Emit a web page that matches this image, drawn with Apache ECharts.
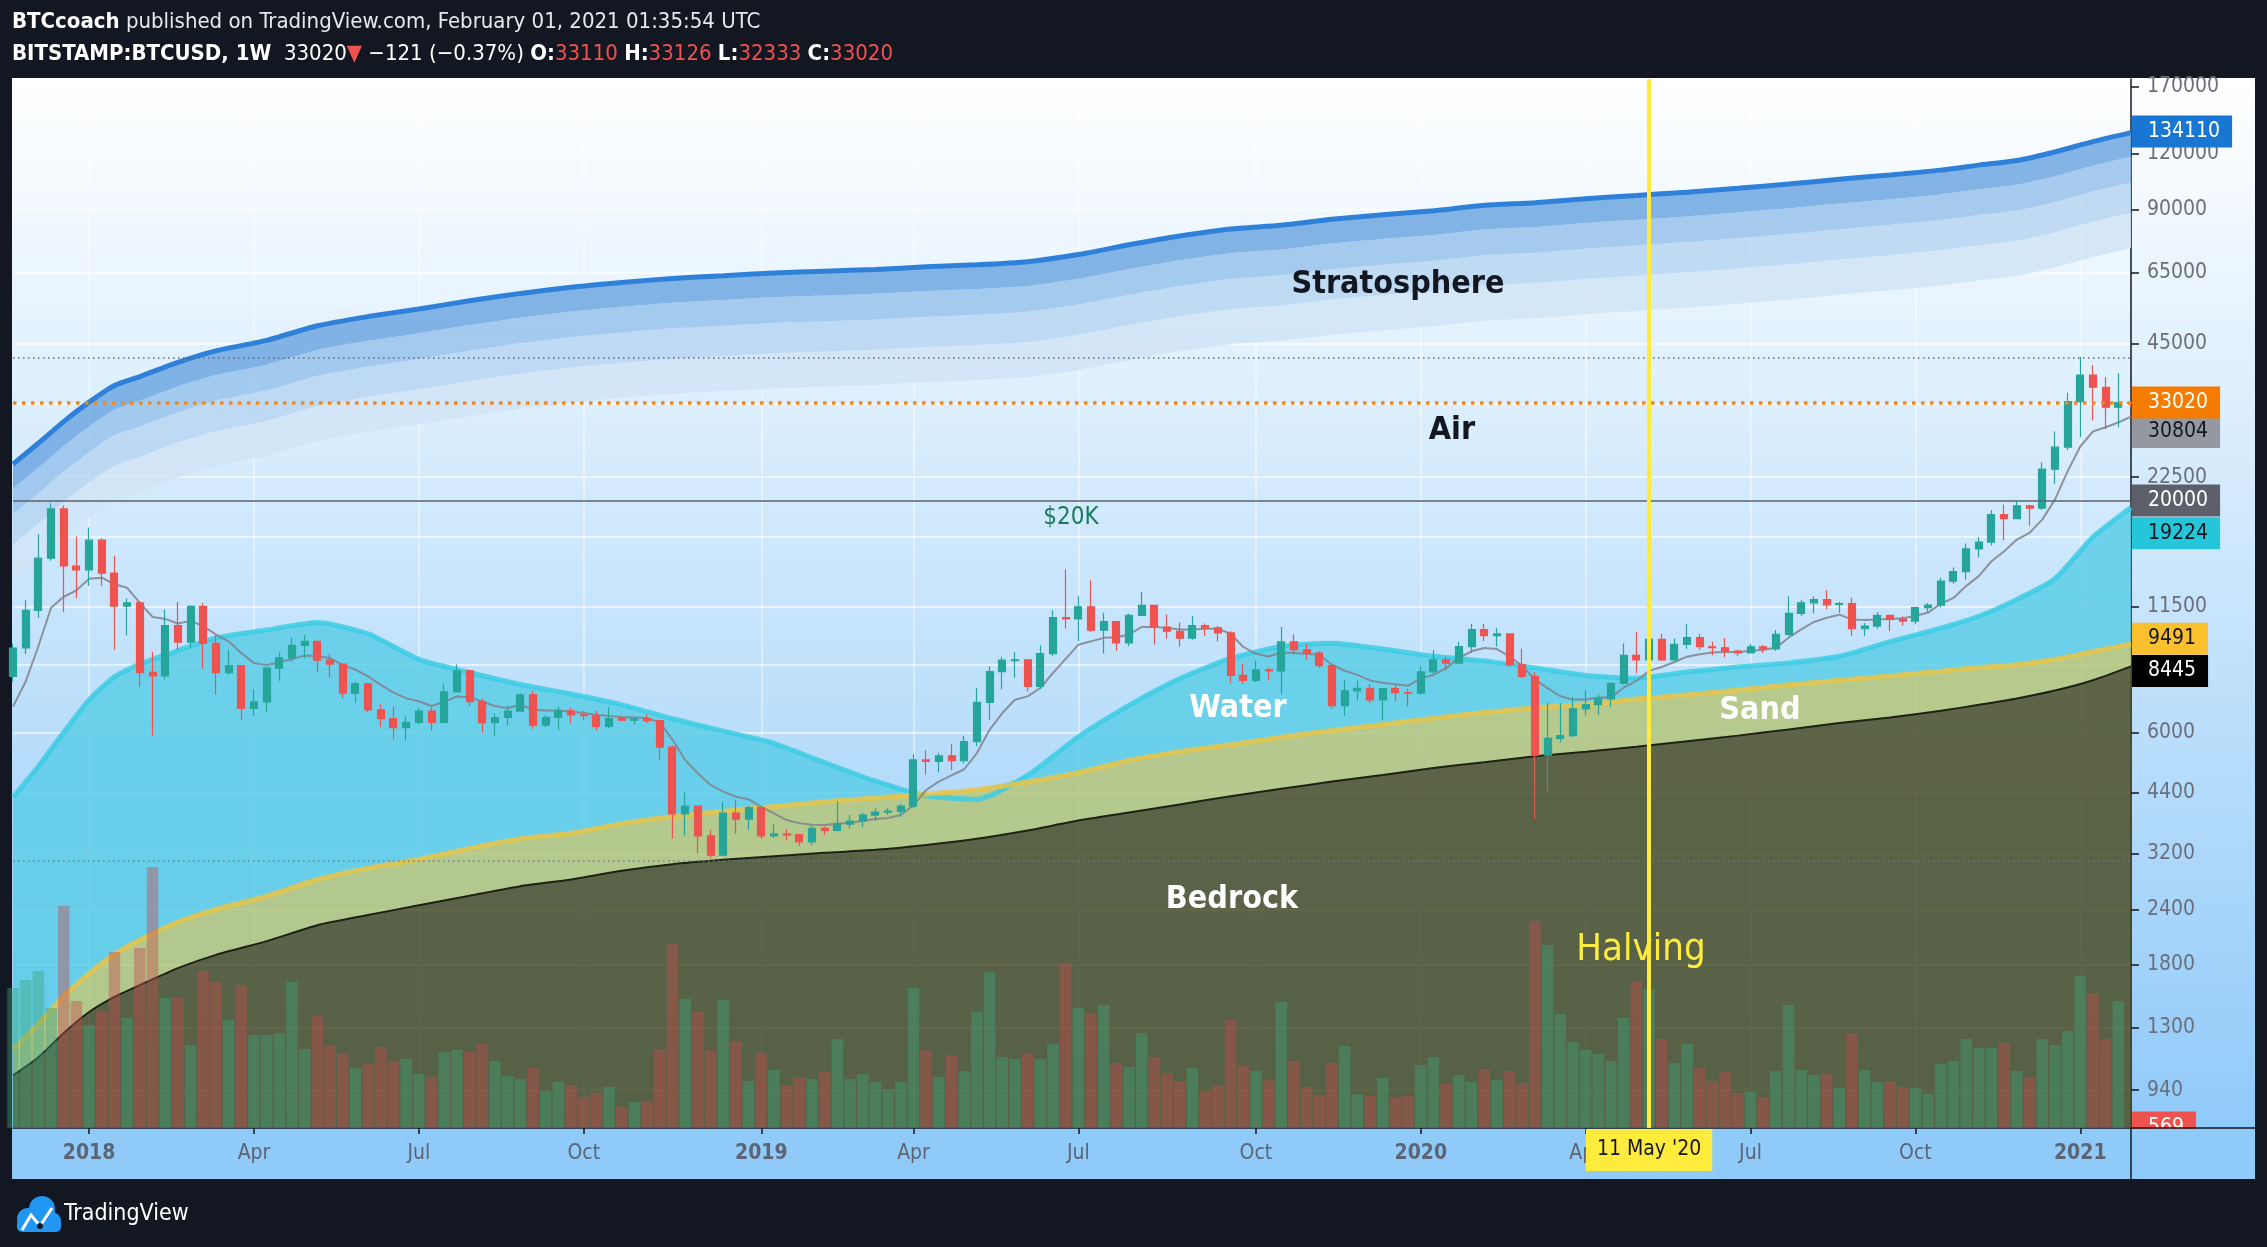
<!DOCTYPE html>
<html>
<head>
<meta charset="utf-8">
<script src="https://cdn.jsdelivr.net/npm/echarts@6/dist/echarts.min.js"></script>
<style>
html,body{margin:0;padding:0;background:#131722;}
#chart{width:2267px;height:1247px;}
</style>
</head>
<body>
<div id="chart"></div>
<script>
// ---------------- DATA ----------------
const firstWeek = '2017-11-20';
const weekCount = 168;

const open = [8020,9290,11285,14790,19090,14200,13920,16240,13700,11540,
11740,8190,8040,10430,9570,11520,9520,8180,8475,6790,
7025,8370,8830,9415,9620,8720,8545,7350,7716,6740,
6440,6150,6320,6700,6320,7400,8256,7035,6310,6480,
6700,7290,6225,6485,6709,6572,6540,6187,6440,6390,
6440,6380,5556,3931,4094,3512,3176,3951,3830,4062,
3512,3545,3535,3404,3648,3610,3732,3790,3910,3970,
3990,4094,5202,5160,5312,5180,5722,7007,8219,8700,
8740,7617,9024,10880,10800,11500,10186,10655,9535,11000,
11580,10345,10130,9770,10430,10310,10045,8058,7852,8300,
8250,9584,9210,9051,8475,6890,7440,7540,7100,7530,
7375,7350,8213,8740,8590,9355,10220,9906,9990,8517,
8016,5331,5815,5900,6776,6929,7140,7737,8942,8730,
9715,8730,9467,9800,9350,9300,9146,9055,9350,9250,
9967,11110,11740,11940,11640,11690,10264,10406,10995,10772,
10680,11450,11600,13130,13800,15520,16070,18530,18150,19410,
19180,23460,26290,33280,38200,35850,32330,33110];

const close = [9290,11285,14790,19090,14210,13920,16240,13680,11540,11740,
8180,8040,10430,9570,11520,9520,8180,8475,6790,7025,
8370,8830,9415,9620,8720,8545,7350,7716,6740,6440,
6150,6320,6700,6320,7400,8256,7035,6310,6480,6700,
7290,6225,6480,6709,6572,6540,6187,6440,6390,6430,
6380,5556,3931,4094,3512,3176,3951,3830,4062,3512,
3545,3525,3404,3648,3610,3732,3790,3910,3970,3990,
4094,5202,5160,5312,5180,5722,7007,8219,8730,8740,
7617,9024,10880,10800,11500,10186,10655,9535,11000,11580,
10345,10130,9770,10430,10310,10045,8058,7852,8300,8250,
9584,9210,9051,8475,6890,7440,7540,7100,7530,7375,
7350,8213,8740,8590,9355,10220,9906,9990,8517,8016,
5331,5815,5900,6776,6929,7140,7737,8942,8730,9715,
8730,9467,9800,9350,9300,9146,9055,9350,9250,9967,
11110,11740,11940,11620,11690,10264,10406,10995,10772,10680,
11450,11600,13130,13800,15520,16070,18530,18150,19410,19180,
23460,26290,33280,38200,35850,32330,33110,33020];

const high = [9490,11900,16760,19666,19450,16560,17350,16400,14980,12000,
11840,9100,11340,11790,11600,11740,9920,9200,8520,7500,
8430,9070,9800,9950,9650,8990,8580,7800,7760,6940,
6860,6540,6830,6830,7716,8530,8300,7150,6620,6900,
7350,7440,6560,6865,6830,6700,6700,6840,6490,6500,
6600,6400,5600,4400,4100,3612,4183,4240,4100,4100,
3740,3630,3545,3710,3680,4204,3910,3960,4050,4050,
4140,5360,5470,5390,5650,5900,7550,8440,8880,9090,
8780,9420,11300,13960,12150,13200,11145,10700,11110,12410,
11600,11050,10600,10950,10550,10430,10130,8550,8690,8400,
10360,9960,9500,9140,8520,7870,7840,7700,7540,7700,
7530,8470,9190,8890,9600,10520,10520,10300,10000,9250,
8200,7000,6980,7220,7470,7300,7760,9515,10110,9950,
10000,9740,10500,10000,9600,9780,9200,9500,9450,10200,
12150,11930,12150,12530,11800,12050,10580,11180,11050,10950,
11500,11730,13350,14090,15960,16500,18950,19520,19900,19500,
24300,28510,34870,41990,40240,37800,38530,33126];

const low = [7800,9000,10850,14600,11180,12020,12810,12810,9200,9920,
7610,5900,7900,9180,9300,8340,7290,8080,6400,6530,
6650,7840,8650,8810,8180,7970,7170,7000,6650,6170,
5780,5750,6240,6060,6290,7390,6880,5990,5890,6220,
6680,6110,6160,6080,6290,6400,6060,6140,6350,6250,
6300,5187,3458,3519,3204,3122,3170,3550,3620,3460,
3470,3430,3330,3340,3530,3590,3650,3670,3790,3910,
3870,4050,4820,4880,4940,5110,5590,6400,7500,7970,
7420,7520,8900,10260,9620,10100,9015,9160,9370,10950,
9455,9750,9350,9700,9880,9610,7740,7710,7780,7850,
7310,8980,8730,8370,6780,6540,7080,6990,6395,7050,
6870,7300,8080,8270,8560,9050,9620,9350,8420,7950,
3834,4430,5690,5860,6550,6560,6840,7700,8150,8200,
8700,8700,9250,9200,8950,8860,8900,9050,9050,9150,
9900,10950,11110,11350,11130,9900,9880,10260,10150,10420,
10500,11200,11450,12950,13240,14840,15800,16230,18100,17500,
19000,21750,25900,27680,30180,28850,29150,32333];

// weekly volume, thousands of BTC
const volumeK = [140,148,157,120,222,127,103,116,176,110,
180,261,130,130,83,157,146,108,143,93,
93,95,146,79,112,82,74,60,64,81,
67,69,54,51,76,78,76,84,67,52,
49,60,37,46,43,31,35,41,21,26,
27,79,184,129,116,78,128,86,47,75,
58,42,51,49,56,89,49,54,46,39,
46,140,78,51,73,57,116,156,71,69,
74,69,84,165,120,115,123,65,61,95,
71,55,47,60,36,42,108,62,57,48,
126,67,41,33,65,82,34,32,50,30,
32,63,71,44,53,46,59,48,57,45,
207,183,114,86,78,74,67,110,147,138,
89,65,84,60,47,56,35,36,31,57,
123,58,53,54,40,95,58,46,47,41,
40,34,64,67,89,80,80,85,57,50,
89,83,97,152,135,89,127,0.569];

// grey moving-average line
const maLine = [6858,7810,9373,11440,12114,12520,13300,13370,12918,12690,
11740,10914,10800,10546,10690,10400,9960,9618,9050,8590,
8500,8630,8774,8930,8900,8820,8500,8300,8016,7675,
7375,7162,7050,6878,7030,7225,7200,7030,6878,6800,
6930,6750,6720,6720,6680,6630,6573,6530,6500,6480,
6460,6320,5773,5200,4853,4570,4414,4301,4242,4083,
3944,3810,3750,3720,3712,3741,3750,3797,3830,3850,
3910,4117,4452,4651,4800,4957,5388,6080,6632,7107,
7230,7550,8160,8780,9450,9615,9790,9820,9962,10363,
10363,10300,10220,10220,10260,10260,10009,9340,9015,8890,
9080,9050,9015,8970,8517,8257,8080,7852,7760,7700,
7636,7947,8080,8370,8820,9130,9290,9240,8890,8475,
7880,7545,7236,7110,7110,7186,7185,7567,7833,8250,
8420,8640,8880,8990,9070,9100,9100,9150,9200,9300,
9800,10228,10630,10864,11040,10772,10740,10772,10800,10840,
10960,11160,11680,12040,12800,13480,14560,15330,16290,16860,
18060,20030,23190,26380,28510,29150,29870,30804];

// zone curves sampled at these week numbers
const bandWeeks = [0,2,4,6,8,10,13,16,20,24,28,32,36,40,44,48,52,56,60,64,68,72,76,80,84,88,92,96,100,104,108,112,116,120,124,128,132,136,140,144,148,152,155,158,161,164,167];
const bedrock = [1015,1115,1265,1410,1525,1621,1770,1895,2035,2210,2330,2450,2575,2705,2800,2930,3030,3100,3160,3215,3265,3350,3460,3610,3800,3960,4130,4310,4480,4650,4810,4990,5140,5300,5430,5570,5730,5900,6090,6300,6480,6710,6920,7150,7450,7860,8445];
const sandTop = [1160,1325,1530,1720,1900,2047,2245,2400,2570,2800,2970,3110,3290,3460,3560,3740,3880,3990,4085,4190,4270,4360,4460,4640,4870,5190,5430,5630,5850,6060,6250,6460,6650,6820,6930,7130,7290,7470,7680,7860,8040,8240,8400,8520,8760,9120,9491];
const waterTop = [4290,5030,6000,7100,8000,8550,9160,9780,10200,10600,10000,8760,8180,7690,7320,6920,6440,6040,5670,5130,4660,4320,4240,4800,5866,6900,7930,8800,9360,9520,9240,8900,8690,8380,8060,7940,8200,8420,8600,8900,9600,10300,10950,11950,13300,16500,19224];
const stratTop = [24070,26830,30000,33190,36200,37900,40800,43300,45700,49300,51700,53800,56100,58300,60200,61700,63000,63900,64800,65400,66000,66900,67600,68700,71300,75000,78500,81400,83000,85600,87600,89400,92000,93200,95200,96800,98500,100500,102700,105300,107700,110400,113300,116000,121300,128000,134110];
const stratB1 = [21230,23660,26460,29270,31930,33430,35990,38190,40310,43480,45600,47450,49480,51420,53100,54420,55570,56360,57150,57680,58210,59010,59620,60590,62890,66150,69240,71790,73210,75500,77260,78850,81140,82200,83970,85380,86880,88640,90580,92870,94990,97370,99930,102310,106990,112900,118290];
const stratB2 = [18580,20710,23160,25620,27950,29260,31500,33430,35280,38060,39910,41530,43310,45010,46470,47630,48640,49330,50030,50490,50950,51650,52190,53040,55040,57900,60600,62840,64080,66080,67630,69020,71020,71950,73490,74730,76040,77590,79280,81290,83140,85230,87470,89550,93640,98820,103530];
const stratB3 = [15890,17710,19800,21910,23890,25010,26930,28580,30160,32540,34120,35510,37030,38480,39730,40720,41580,42170,42770,43160,43560,44150,44620,45340,47060,49500,51810,53720,54780,56500,57820,59000,60720,61510,62830,63890,65010,66330,67780,69500,71080,72860,74780,76560,80060,84480,88510];
const stratB4 = [13240,14760,16500,18250,19910,20850,22440,23820,25140,27120,28440,29590,30860,32070,33110,33940,34650,35150,35640,35970,36300,36800,37180,37790,39220,41250,43180,44770,45650,47080,48180,49170,50600,51260,52360,53240,54180,55280,56490,57920,59240,60720,62320,63800,66720,70400,73760];

const priceTicks = [940,1300,1800,2400,3200,4400,6000,8500,11500,16500,22500,33000,45000,65000,90000,120000,170000];
const priceMin = 773, priceMax = 177000;
const volumeAxisMaxK = 1049;
const monthNames = ['Jan','Feb','Mar','Apr','May','Jun','Jul','Aug','Sep','Oct','Nov','Dec'];

const lastPrice = 33020, maLast = 30804, level20k = 20000, stratLast = 134110, waterLast = 19224, sandLast = 9491, bedLast = 8445, lastVolume = 569;
const rangeHigh = 41990, rangeLow = 3122;
const halvingWeek = '2020-05-11';

// ---------------- BUILD ----------------
const FONT = "'DejaVu Sans Condensed','DejaVu Sans',sans-serif";
const L = v => Math.log10(v);
const HIDDEN_LINE = { color: 'rgba(0,0,0,0)', width: 0.5 };

const categories = [];
{
  const t0 = Date.parse(firstWeek);
  for (let i = 0; i < weekCount; i++) categories.push(new Date(t0 + i * 7 * 86400000).toISOString().slice(0, 10));
}
const isQuarterStart = (idx) => {
  const s = categories[idx];
  const m = +s.slice(5, 7), d = +s.slice(8, 10);
  return (m === 1 || m === 4 || m === 7 || m === 10) && d <= 7;
};
const fmtX = (val) => {
  const m = +val.slice(5, 7);
  return m === 1 ? '{y|' + val.slice(0, 4) + '}' : '{m|' + monthNames[m - 1] + '}';
};

const bx = bandWeeks.map(i => Date.parse(categories[i]));
const SM = 0.2;
function stackBand(name, data, stack, color) {
  const s = { name, type: 'line', xAxisIndex: 1, yAxisIndex: 0, stack, data, symbol: 'none', showSymbol: false, smooth: SM,
    lineStyle: { width: 0, opacity: 0 }, z: 1, silent: true };
  if (color) s.areaStyle = { color, opacity: 1 };
  return s;
}
function curve(name, vals, color, width, z) {
  return { name, type: 'line', xAxisIndex: 1, yAxisIndex: 0, data: vals.map((v, k) => [bx[k], L(v)]), symbol: 'none', showSymbol: false,
    smooth: SM, lineStyle: { color, width }, z, silent: true };
}

const dataBed = bedrock.map((v, k) => [bx[k], L(v)]);
const dataSand = sandTop.map((v, k) => [bx[k], L(v) - L(bedrock[k])]);
const dataWater = waterTop.map((v, k) => [bx[k], Math.max(0, L(v) - L(sandTop[k]))]);

const dataS0 = stratB4.map((v, k) => [bx[k], L(v)]);
const dataS4 = stratB3.map((v, k) => [bx[k], L(v) - L(stratB4[k])]);
const dataS3 = stratB2.map((v, k) => [bx[k], L(v) - L(stratB3[k])]);
const dataS2 = stratB1.map((v, k) => [bx[k], L(v) - L(stratB2[k])]);
const dataS1 = stratTop.map((v, k) => [bx[k], L(v) - L(stratB1[k])]);

const tagPad = [4, 12, 4, 16];
// shift (px) that keeps neighbouring price tags from overlapping, as on the original chart
function tagLabel(text, bg, fg, shift) {
  return { show: true, position: 'end', distance: 1, formatter: text, backgroundColor: bg, color: fg,
    fontSize: 21, fontFamily: FONT, lineHeight: 24, padding: tagPad, align: 'left', verticalAlign: 'middle',
    offset: [0, shift || 0] };
}
function priceTag(value, bg, fg, line, shift) {
  return { yAxis: L(value), label: tagLabel(String(value), bg, fg, shift), lineStyle: line || HIDDEN_LINE };
}
function plainLine(value, line) {
  return { yAxis: L(value), label: { show: false }, lineStyle: line };
}

const candleData = categories.map((c, i) => [L(open[i]), L(close[i]), L(low[i]), L(high[i])]);
const volData = volumeK.map((v, i) => ({
  value: v * 1000,
  itemStyle: { color: close[i] >= open[i] ? 'rgba(60,164,122,0.42)' : 'rgba(198,74,77,0.42)' }
}));

const tickLogs = priceTicks.map(L);

const chart = echarts.init(document.getElementById('chart'), null, { renderer: 'canvas' });

const txt = (x, y, text, size, weight, fill, extra) => ({
  type: 'text', x, y, z: 100, silent: true,
  style: Object.assign({ text, fontSize: size, fontFamily: FONT, fontWeight: weight, fill, align: 'center', verticalAlign: 'middle' }, extra || {})
});

const option = {
  animation: false,
  backgroundColor: '#131722',
  grid: { left: 13, right: 136, top: 79, bottom: 119, containLabel: false },
  xAxis: [
    {
      type: 'category', data: categories, boundaryGap: false, gridIndex: 0,
      axisLine: { show: true, lineStyle: { color: '#131722', width: 1.5 } },
      axisTick: { show: true, interval: isQuarterStart, length: 6, lineStyle: { color: '#131722', width: 1.5 } },
      axisLabel: {
        interval: isQuarterStart, formatter: fmtX, margin: 15, color: '#5d6473', fontSize: 21, fontFamily: FONT,
        rich: {
          y: { fontWeight: 'bold', fontSize: 21, fontFamily: FONT, color: '#5d6473' },
          m: { fontWeight: 'normal', fontSize: 21, fontFamily: FONT, color: '#5d6473' }
        }
      },
      splitLine: { show: true, interval: isQuarterStart, lineStyle: { color: 'rgba(255,255,255,0.55)', width: 1.5 } }
    },
    {
      type: 'time', gridIndex: 0, show: false,
      min: Date.parse(categories[0]), max: Date.parse(categories[weekCount - 1]),
      splitLine: { show: false }
    }
  ],
  yAxis: [
    {
      type: 'value', position: 'right', gridIndex: 0, min: L(priceMin), max: L(priceMax),
      axisLine: { show: true, lineStyle: { color: '#131722', width: 1.5 } },
      axisTick: { show: true, customValues: tickLogs, length: 8, lineStyle: { color: '#131722', width: 1.5 } },
      axisLabel: { customValues: tickLogs, formatter: v => String(Math.round(Math.pow(10, v))), margin: 16,
        color: '#6b6f7b', fontSize: 21, fontFamily: FONT },
      splitLine: { show: true, lineStyle: { color: 'rgba(255,255,255,0.8)', width: 1.5 } }
    },
    { type: 'value', gridIndex: 0, min: 0, max: volumeAxisMaxK * 1000, show: false, splitLine: { show: false } }
  ],
  series: [
    // stratosphere bands
    stackBand('sBase', dataS0, 'strat', null),
    stackBand('s4', dataS4, 'strat', 'rgba(208,228,246,0.85)'),
    stackBand('s3', dataS3, 'strat', 'rgba(183,213,241,0.85)'),
    stackBand('s2', dataS2, 'strat', 'rgba(152,194,235,0.85)'),
    stackBand('s1', dataS1, 'strat', 'rgba(111,167,225,0.85)'),
    // ground zones
    stackBand('bedrock', dataBed, 'ground', 'rgba(77,79,41,0.86)'),
    stackBand('sand', dataSand, 'ground', 'rgba(181,198,124,0.86)'),
    stackBand('water', dataWater, 'ground', 'rgba(93,205,231,0.86)'),
    // zone lines
    curve('waterLine', waterTop, 'rgba(60,205,228,0.85)', 5, 1.5),
    curve('sandLine', sandTop, 'rgba(236,196,66,0.8)', 5, 1.6),
    curve('bedLine', bedrock, '#1e2215', 2, 1.7),
    curve('stratLine', stratTop, '#2f80d9', 5, 1.8),
    // volume
    {
      name: 'volume', type: 'bar', xAxisIndex: 0, yAxisIndex: 1, data: volData, barWidth: 11.5, z: 2, silent: true,
      markLine: {
        silent: true, symbol: ['none', 'none'], animation: false,
        data: [{ yAxis: lastVolume, label: tagLabel(String(lastVolume), '#ef5350', '#ffffff', 0), lineStyle: HIDDEN_LINE }]
      }
    },
    // moving average
    {
      name: 'ma', type: 'line', xAxisIndex: 0, yAxisIndex: 0, data: maLine.map(L), symbol: 'none', showSymbol: false,
      lineStyle: { color: 'rgba(128,131,140,0.85)', width: 2 }, z: 3, silent: true
    },
    // candles
    {
      name: 'BTCUSD', type: 'candlestick', xAxisIndex: 0, yAxisIndex: 0, data: candleData, barWidth: 7.5, z: 4, silent: true,
      itemStyle: { color: '#26a69a', color0: '#ef5350', borderColor: '#26a69a', borderColor0: '#ef5350', borderWidth: 1.2 },
      markLine: {
        silent: true, symbol: ['none', 'none'], animation: false,
        data: [
          plainLine(rangeHigh, { color: '#5d6b7e', width: 1.5, type: [1.5, 3.5] }),
          plainLine(rangeLow, { color: '#6f7a90', width: 1.5, type: [1.5, 3.5] }),
          priceTag(stratLast, '#1976d2', '#ffffff', null, 0),
          priceTag(maLast, '#9598a1', '#131722', null, 16),
          priceTag(lastPrice, '#f57c00', '#ffffff', { color: '#f5871f', width: 3.5, type: [3.5, 5.5] }, 0),
          priceTag(waterLast, '#26c6da', '#131722', null, 24),
          priceTag(level20k, '#5d606b', '#ffffff', { color: '#5d606b', width: 1.5, type: 'solid' }, 0),
          priceTag(sandLast, '#fbc02d', '#131722', null, -4),
          priceTag(bedLast, '#000000', '#ffffff', null, 6),
          {
            xAxis: halvingWeek,
            lineStyle: { color: '#ffeb3b', width: 4, type: 'solid', opacity: 1 },
            label: { show: true, position: 'start', distance: 1, formatter: "11 May '20", backgroundColor: '#ffeb3b',
              color: '#131722', fontSize: 21, fontFamily: FONT, lineHeight: 24, padding: [9, 11, 9, 11] }
          }
        ]
      }
    }
  ],
  graphic: [
    { type: 'rect', z: -10, silent: true, shape: { x: 12, y: 78, width: 2243, height: 1101 },
      style: { fill: new echarts.graphic.LinearGradient(0, 0, 0, 1, [
        { offset: 0, color: '#ffffff' }, { offset: 0.954, color: '#90caf9' }, { offset: 1, color: '#90caf9' }]) } },
    { type: 'rect', z: 50, silent: true, shape: { x: 2132, y: 1129, width: 123, height: 50 }, style: { fill: '#90caf9' } },
    { type: 'line', z: 51, silent: true, shape: { x1: 2131, y1: 1128, x2: 2131, y2: 1179 }, style: { stroke: '#131722', lineWidth: 1.5 } },
    { type: 'line', z: 51, silent: true, shape: { x1: 2131, y1: 1128, x2: 2255, y2: 1128 }, style: { stroke: '#131722', lineWidth: 1.5 } },
    // header
    { type: 'text', x: 12, y: 22, z: 100, silent: true,
      style: { text: '{b|BTCcoach} published on TradingView.com, February 01, 2021 01:35:54 UTC',
        fontSize: 22, fontFamily: FONT, fontWeight: 'normal', fill: '#e6e8ee', verticalAlign: 'middle', align: 'left',
        rich: { b: { fontSize: 22, fontFamily: FONT, fontWeight: 'bold', fill: '#ffffff' } } } },
    { type: 'text', x: 12, y: 54, z: 100, silent: true,
      style: { text: '{b|BITSTAMP:BTCUSD, 1W}  33020{r|▼} −121 (−0.37%) {b|O:}{r|33110} {b|H:}{r|33126} {b|L:}{r|32333} {b|C:}{r|33020}',
        fontSize: 22, fontFamily: FONT, fontWeight: 'normal', fill: '#ffffff', verticalAlign: 'middle', align: 'left',
        rich: { b: { fontSize: 22, fontFamily: FONT, fontWeight: 'bold', fill: '#ffffff' },
                r: { fontSize: 22, fontFamily: FONT, fontWeight: 'normal', fill: '#ef5350' } } } },
    // zone labels
    txt(1398, 285, 'Stratosphere', 32, 'bold', '#131722'),
    txt(1452, 431, 'Air', 32, 'bold', '#131722'),
    txt(1071, 518, '$20K', 24, 'normal', '#1b7a5e'),
    txt(1238, 709, 'Water', 32, 'bold', '#ffffff'),
    txt(1760, 711, 'Sand', 32, 'bold', '#ffffff'),
    txt(1232, 900, 'Bedrock', 32, 'bold', '#ffffff'),
    txt(1641, 950, 'Halving', 38, 'normal', '#ffeb3b'),
    // footer logo
    { type: 'group', z: 100, silent: true, children: [
      { type: 'circle', shape: { cx: 28, cy: 1219, r: 11 }, style: { fill: '#2196f3' }, z: 100 },
      { type: 'circle', shape: { cx: 42, cy: 1209, r: 13 }, style: { fill: '#2196f3' }, z: 100 },
      { type: 'circle', shape: { cx: 52, cy: 1221, r: 9 }, style: { fill: '#2196f3' }, z: 100 },
      { type: 'rect', shape: { x: 17, y: 1219, width: 44, height: 13, r: 5 }, style: { fill: '#2196f3' }, z: 100 },
      { type: 'polyline', shape: { points: [[22, 1230], [31, 1215], [40, 1226], [52, 1208]] }, style: { stroke: '#ffffff', lineWidth: 3, fill: null }, z: 101 },
      { type: 'circle', shape: { cx: 40, cy: 1226, r: 3 }, style: { fill: '#131722' }, z: 102 }
    ] },
    { type: 'text', x: 64, y: 1214, z: 100, silent: true,
      style: { text: 'TradingView', fontSize: 23, fontFamily: FONT, fontWeight: 'normal', fill: '#ffffff', verticalAlign: 'middle', align: 'left' } }
  ]
};

chart.setOption(option);
</script>
</body>
</html>
